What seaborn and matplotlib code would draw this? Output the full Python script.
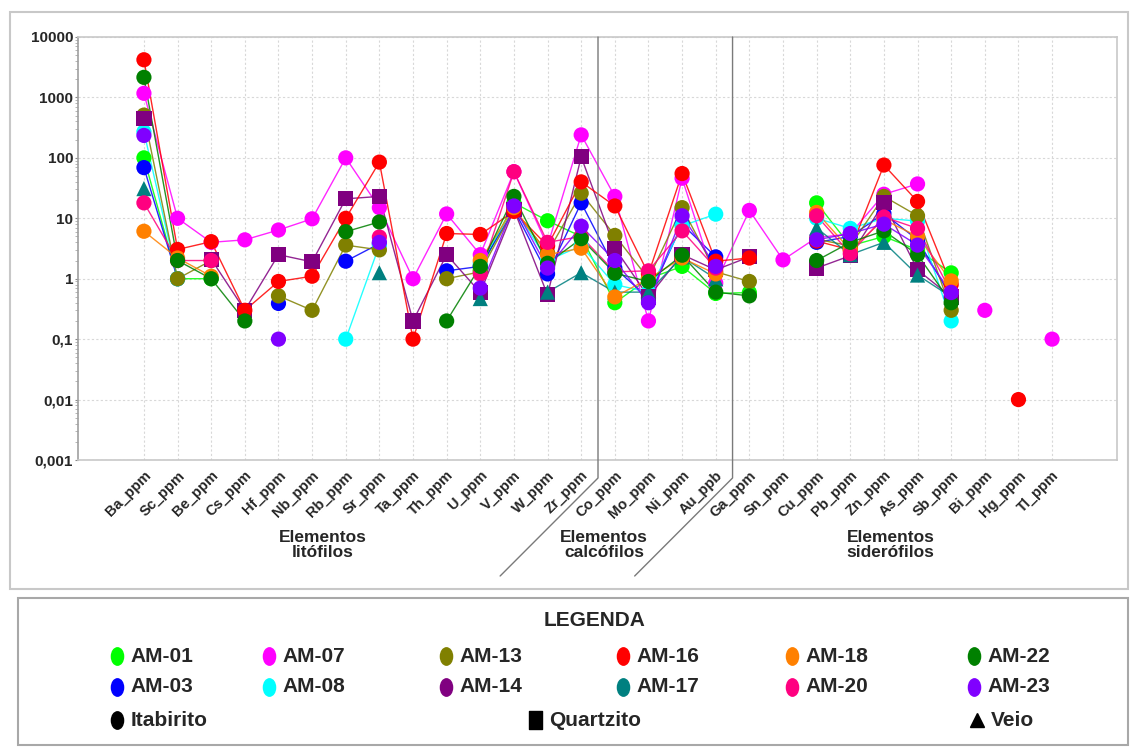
import numpy as np
import pandas as pd
import matplotlib
matplotlib.use("Agg")
import matplotlib.pyplot as plt
import seaborn as sns
from matplotlib.path import Path
from matplotlib.transforms import Affine2D, blended_transform_factory
from matplotlib.patches import Rectangle
from matplotlib.lines import Line2D

N = None
elements = ["Ba_ppm", "Sc_ppm", "Be_ppm", "Cs_ppm", "Hf_ppm", "Nb_ppm", "Rb_ppm", "Sr_ppm",
            "Ta_ppm", "Th_ppm", "U_ppm", "V_ppm", "W_ppm", "Zr_ppm", "Co_ppm", "Mo_ppm",
            "Ni_ppm", "Au_ppb", "Ga_ppm", "Sn_ppm", "Cu_ppm", "Pb_ppm", "Zn_ppm", "As_ppm",
            "Sb_ppm", "Bi_ppm", "Hg_ppm", "Tl_ppm"]

samples = ["AM-01", "AM-03", "AM-07", "AM-08", "AM-13", "AM-14",
           "AM-16", "AM-17", "AM-18", "AM-20", "AM-22", "AM-23"]
rocks = ["Itabirito", "Itabirito", "Itabirito", "Itabirito", "Itabirito", "Quartzito",
         "Itabirito", "Veio", "Itabirito", "Itabirito", "Itabirito", "Itabirito"]
colors = ["#00ff00", "#0000ff", "#ff00ff", "#00ffff", "#808000", "#800080",
          "#ff0000", "#008080", "#ff8000", "#ff0080", "#008000", "#8000ff"]

am01 = [100, 1.0, 1.0, N, N, N, N, N, N, N, 1.4, 18, 9.1, 5.0, 0.4, 1.0, 1.6, 0.57, 0.59, N, 18, 3.5, 5.0, 3.0, 1.25, N, N, N]
am03 = [69, 1.0, N, N, 0.39, N, 1.95, 3.8, N, 1.35, 1.6, 14, 1.2, 18, 1.5, 0.48, 8.0, 2.3, N, N, 4.0, 5.0, 12, 4.4, 0.5, N, N, N]
am07 = [1170, 10, 4.0, 4.4, 6.4, 9.8, 100, 15, 1.0, 11.8, 2.5, 59, 3.5, 240, 23, 0.2, 46, 0.85, 13.5, 2.05, 4.8, 5.5, 25, 37, N, 0.3, N, 0.1]
am08 = [270, 1.0, N, N, N, N, 0.1, 3.6, N, N, 1.8, 15, 2.0, 3.5, 0.8, 0.6, 7.5, 11.7, N, N, 10, 6.8, 10, 9.0, 0.2, N, N, N]
am13 = [510, 1.0, 2.0, N, 0.52, 0.3, 3.6, 3.0, N, 1.0, 1.3, 14, 2.7, 26, 5.2, 1.0, 15, 1.3, 0.9, N, 4.5, 3.5, 23, 11, 0.3, N, N, N]
am14 = [445, N, 2.1, 0.3, 2.5, 1.9, 21, 23, 0.2, 2.5, 0.59, 14, 0.54, 104, 3.2, 0.5, 2.5, 1.4, 2.3, N, 1.5, 2.4, 18, 1.4, 0.5, N, N, N]
am16 = [4200, 3.05, 4.1, 0.3, 0.9, 1.1, 10, 85, 0.1, 5.6, 5.4, 13, 3.5, 40, 16, 1.2, 55, 1.95, 2.2, N, 4.2, 3.0, 76, 19, 0.8, N, 0.01, N]
am17 = [31, N, N, N, N, N, N, 1.26, N, N, 0.47, N, 0.6, 1.26, 0.6, 0.6, 2.3, 1.0, N, N, 6.9, 2.5, 4.0, 1.15, 0.5, N, N, N]
am18 = [6.1, 2.2, 1.1, N, N, N, N, N, N, N, 2.0, 15, 2.5, 3.2, 0.5, 1.0, 2.2, 1.2, N, N, 12.5, 3.0, 9.5, 5.0, 0.92, N, N, N]
am20 = [18, 2.0, 2.0, N, N, N, N, 4.9, N, N, 1.2, 59, 4.0, 5.0, 1.3, 1.35, 6.2, 1.5, N, N, 11, 2.6, 10.5, 6.8, 0.6, N, N, N]
am22 = [2150, 2.0, 1.0, 0.2, N, N, 6.0, 8.7, N, 0.2, 1.6, 23, 1.8, 4.6, 1.23, 0.9, 2.45, 0.6, 0.52, N, 2.0, 4.0, 6.2, 2.5, 0.4, N, N, N]
am23 = [235, N, N, N, 0.1, N, N, 4.0, N, N, 0.7, 16, 1.5, 7.4, 2.0, 0.4, 11, 1.6, N, N, 4.4, 5.6, 8.0, 3.6, 0.59, N, N, N]
series = [am01, am03, am07, am08, am13, am14, am16, am17, am18, am20, am22, am23]

ytick_vals = [0.001, 0.01, 0.1, 1, 10, 100, 1000, 10000]
ytick_labels = ["0,001", "0,01", "0,1", "1", "10", "100", "1000", "10000"]
groups = ["Elementos\nlitófilos", "Elementos\ncalcófilos", "Elementos\nsiderófilos"]
group_pos = [5.32, 13.68, 22.2]
separators = [13.5, 17.5]
leg_rows = [["AM-01", "AM-07", "AM-13", "AM-16", "AM-18", "AM-22"],
            ["AM-03", "AM-08", "AM-14", "AM-17", "AM-20", "AM-23"]]
rock_labels = ["Itabirito", "Quartzito", "Veio"]

# long-form data; segments break at missing values
rows = []
for name, rock, vals in zip(samples, rocks, series):
    seg, gap = 0, True
    for i, v in enumerate(vals):
        if v is None:
            gap = True
            continue
        if gap:
            seg += 1
            gap = False
        rows.append(dict(x=i, value=v, sample=name, rock=rock, seg=f"{name}_{seg}"))
df = pd.DataFrame(rows)
pal = dict(zip(samples, colors))
markers = {"Itabirito": "o", "Quartzito": "s", "Veio": "^"}

sns.set_theme(style="white")
plt.rcParams["font.family"] = ["Liberation Sans", "DejaVu Sans"]
plt.rcParams["font.weight"] = "bold"

W, H = 1131, 751
fig = plt.figure(figsize=(W / 100, H / 100), dpi=100)
fig.patch.set_facecolor("white")


def fx(p):
    return p / W


def fy(p):
    return 1 - p / H


ax = fig.add_axes([fx(78), fy(460), fx(1117) - fx(78), fy(37) - fy(460)])
ax.set_yscale("log")

sns.lineplot(data=df, x="x", y="value", hue="sample", units="seg", estimator=None,
             palette=pal, lw=1.0, alpha=0.85, legend=False, ax=ax, sort=True)
sns.scatterplot(data=df, x="x", y="value", hue="sample", style="rock", markers=markers,
                palette=pal, s=120, linewidth=0, legend=False, ax=ax, zorder=3)

ax.set_ylim(0.001, 10000)
ax.set_xlim(-1.96, 28.93)
ax.set_yticks(ytick_vals)
ax.set_yticklabels(ytick_labels, fontsize=11, fontweight="bold")
ax.set_xticks(range(len(elements)))
ax.set_xticklabels(elements, rotation=45, ha="right", va="top", rotation_mode="anchor",
                   fontsize=10.5, fontweight="bold")
ax.set_xlabel("")
ax.set_ylabel("")
ax.grid(True, which="major", color="#d8d8d8", ls=(0, (2, 2)), lw=0.8)
ax.tick_params(axis="y", which="major", length=2.5, width=0.8, color="#888888", pad=1, left=True)
ax.tick_params(axis="y", which="minor", length=2, width=0.6, color="#aaaaaa", left=True)
ax.tick_params(axis="x", length=0, pad=6)
for side in ["top", "right", "bottom"]:
    ax.spines[side].set_color("#c8c8c8")
    ax.spines[side].set_linewidth(1.2)
ax.spines["left"].set_color("#a0a0a0")
ax.spines["left"].set_linewidth(1.2)

trans = blended_transform_factory(ax.transData, fig.transFigure)
for xs in separators:
    xe = xs - 2.91
    fig.add_artist(Line2D([xs, xs, xe], [fy(37), fy(478), fy(576)], transform=trans,
                          color="#7a7a7a", lw=1.0))
for g, gx in zip(groups, group_pos):
    fig.text(gx, fy(545), g, transform=trans, ha="center", va="center",
             fontsize=12.5, fontweight="bold", linespacing=1.0)

# frame boxes
fig.add_artist(Rectangle((fx(10), fy(589)), fx(1128) - fx(10), fy(12) - fy(589),
                         transform=fig.transFigure, fill=False, ec="#c8c8c8", lw=1.5))
fig.add_artist(Rectangle((fx(18), fy(745)), fx(1128) - fx(18), fy(598) - fy(745),
                         transform=fig.transFigure, fill=False, ec="#a8a8a8", lw=1.5))

# legend
lax = fig.add_axes([0, 0, 1, 1], zorder=-1)
lax.set_xlim(0, W)
lax.set_ylim(H, 0)
lax.axis("off")
ell = Path.unit_circle().transformed(Affine2D().scale(0.7, 1.0))
rect = Path([(-0.36, -0.5), (0.36, -0.5), (0.36, 0.5), (-0.36, 0.5), (-0.36, -0.5)],
            [Path.MOVETO, Path.LINETO, Path.LINETO, Path.LINETO, Path.CLOSEPOLY])
lax.text(595, 620, "LEGENDA", ha="center", va="center", fontsize=15, fontweight="bold")
col_x = [117, 269, 446, 623, 792, 974]
row_y = [656, 687]
for r, names in enumerate(leg_rows):
    for cx, name in zip(col_x, names):
        lax.plot([cx], [row_y[r]], marker=ell, ms=12.5, color=pal[name], ls="none")
        lax.text(cx + 13, row_y[r], name, ha="left", va="center", fontsize=15, fontweight="bold")
rock_marks = [(ell, 117, 12.5), (rect, 535, 13), ("^", 977, 10)]
for label, (mk, cx, ms) in zip(rock_labels, rock_marks):
    lax.plot([cx], [720], marker=mk, ms=ms, color="black", ls="none")
    lax.text(cx + 14, 720, label, ha="left", va="center", fontsize=15, fontweight="bold")

fig.savefig("out.png", dpi=100, facecolor="white")
